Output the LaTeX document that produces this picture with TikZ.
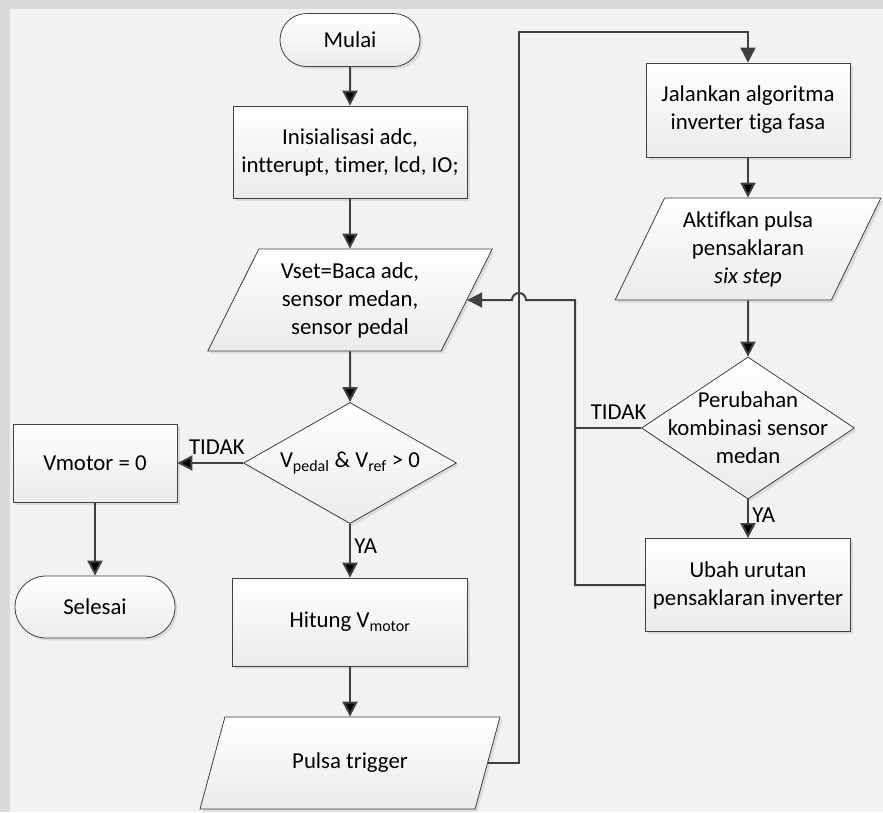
\documentclass[tikz,border=0pt]{standalone}
\usepackage{fontspec}
\setmainfont{Carlito}[Ligatures={NoCommon}]
\usetikzlibrary{shapes.geometric,shapes.misc,arrows.meta,shadows}
\definecolor{outerbg}{HTML}{DADADA}
\definecolor{panelbg}{HTML}{F2F2F2}
\definecolor{linegray}{HTML}{404040}
\definecolor{boxshade}{HTML}{EBEBEB}

\begin{document}
\begin{tikzpicture}[x=1pt,y=-1pt,
		font=\fontsize{22.8}{28}\selectfont,
		box/.style={draw=linegray,line width=0.8pt,top color=white,bottom color=boxshade,drop shadow={shadow xshift=2.5pt,shadow yshift=-2.5pt,opacity=0.2},align=center,inner sep=2pt},
		proc/.style={box,shape=rectangle},
		term/.style={box,shape=rounded rectangle},
		io/.style={box,shape=trapezium,trapezium left angle=63.4,trapezium right angle=116.6,trapezium stretches=true},
		decision/.style={box,shape=diamond},
		link/.style={draw=linegray,line width=2pt},
		flow/.style={link,-{Triangle[length=15pt,width=15pt]}}]
			\fill[outerbg] (0,0) rectangle (883,812);
			\fill[panelbg] (10,9) rectangle (883,812);
			\useasboundingbox (0,0) rectangle (883,812);

			\node[term,minimum width=144pt,minimum height=53pt] (start) at (350,40) {Mulai};
			\node[proc,minimum width=234pt,minimum height=92pt] (init) at (350,152) {Inisialisasi adc,\\intterupt, timer, lcd, IO;};
			\node[io,minimum width=285pt,minimum height=102pt] (read) at (350,300) {Vset=Baca adc,\\sensor medan,\\sensor pedal};
			\node[decision,aspect=1.76,minimum width=213pt,minimum height=121pt] (check) at (350,463) {V\textsubscript{pedal} \& V\textsubscript{ref} > 0};
			\node[proc,minimum width=164pt,minimum height=78pt] (zero) at (95,463) {Vmotor = 0};
			\node[term,minimum width=164pt,minimum height=62pt] (stop) at (95,607) {Selesai};
			\node[proc,minimum width=235pt,minimum height=88pt] (calc) at (350,622) {Hitung V\textsubscript{motor}};
			\node[io,minimum width=300pt,minimum height=92pt] (pulse) at (350,763) {Pulsa trigger};
			\node[proc,minimum width=204pt,minimum height=94pt] (run) at (748,110) {Jalankan algoritma\\inverter tiga fasa};
			\node[io,minimum width=266pt,minimum height=102pt] (enable) at (748,249) {Aktifkan pulsa\\pensaklaran\\\textit{six step}};
			\node[decision,aspect=1.5,minimum width=213pt,minimum height=142pt,label={[align=center]center:Perubahan\\kombinasi sensor\\medan}] (change) at (748,428) {};
			\node[proc,minimum width=205pt,minimum height=93pt] (swap) at (748,585) {Ubah urutan\\pensaklaran inverter};

			\coordinate (up) at (519,32);
			\coordinate (back) at (575,300);
			\coordinate (hop) at (526,300);

			\path [flow] (start) edge (init);
			\path [flow] (init) edge (read);
			\path [flow] (read) edge (check);
			\path [flow] (check) edge node[pos=0.4,above=4pt] {TIDAK} (zero);
			\path [flow] (check) edge node[pos=0.42,right] {YA} (calc);
			\path [flow] (zero) edge (stop);
			\path [flow] (calc) edge (pulse);
			\path [flow] (run) edge (enable);
			\path [flow] (enable) edge (change);
			\path [flow] (change) edge node[pos=0.4,right] {YA} (swap);
			\draw [flow] (pulse.east) -| (up) -| (run.north);
			\draw [link] (change.west) -- node[pos=0.34,above=4pt] {TIDAK} (back |- change.west);
			\draw [flow] (swap.west) -| (back) -- (hop) arc[start angle=0,end angle=180,radius=7pt] -- (read.east);
		\end{tikzpicture}
\end{document}
